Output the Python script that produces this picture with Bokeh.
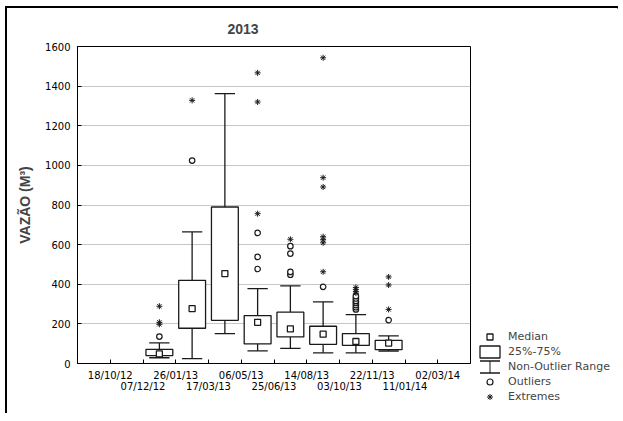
from bokeh.plotting import figure
from bokeh.layouts import row
from bokeh.models import Range1d, FixedTicker, Legend, LegendItem, ColumnDataSource
from bokeh.embed import file_html
from bokeh.resources import INLINE

# ---- data ----
title_text = "2013"
y_label = "VAZÃO (M³)"
tick_labels = ["18/10/12", "07/12/12", "26/01/13", "17/03/13", "06/05/13", "25/06/13",
               "14/08/13", "03/10/13", "22/11/13", "11/01/14", "02/03/14"]
tick_pos = [1, 2, 3, 4, 5, 6, 7, 8, 9, 10, 11]
box_pos = [2.5, 3.5, 4.5, 5.5, 6.5, 7.5, 8.5, 9.5]
q1 = [40, 178, 218, 99, 134, 97, 91, 70]
median = [49, 277, 454, 208, 175, 148, 111, 103]
q3 = [71, 420, 790, 242, 259, 188, 151, 117]
whisk_lo = [29, 25, 151, 64, 76, 54, 54, 63]
whisk_hi = [104, 664, 1362, 378, 392, 311, 247, 139]
outliers = [[136], [1024], [], [477, 538, 659], [448, 462, 555, 592],
            [387], [273, 284, 295, 306, 316, 328, 340], [219]]
extremes = [[198, 208, 289], [1328], [], [756, 1320, 1467], [627],
            [463, 609, 625, 640, 891, 938, 1543], [355, 364, 374, 384], [273, 396, 437]]
legend_labels = ["Median", "25%-75%", "Non-Outlier Range", "Outliers", "Extremes"]

# ---- derived sources ----
box_w = 0.82
cap_w = 0.62
box_src = ColumnDataSource(dict(x=box_pos, q1=q1, q3=q3, med=median,
                                lo=whisk_lo, hi=whisk_hi,
                                cx0=[x - cap_w / 2 for x in box_pos],
                                cx1=[x + cap_w / 2 for x in box_pos]))
out_src = ColumnDataSource(dict(
    x=[box_pos[i] for i, vals in enumerate(outliers) for _ in vals],
    y=[v for vals in outliers for v in vals]))
ext_src = ColumnDataSource(dict(
    x=[box_pos[i] for i, vals in enumerate(extremes) for _ in vals],
    y=[v for vals in extremes for v in vals]))

FONT = "DejaVu Sans"
INK = "#1a1a1a"
LW = 1.3

# ---- main plot ----
p = figure(width=466, height=405, output_backend="svg", toolbar_location=None,
           x_range=Range1d(0, 12), y_range=Range1d(0, 1600),
           min_border_left=70, min_border_right=3, min_border_top=38, min_border_bottom=50)
p.frame_align = False

p.title.text = title_text
p.title.text_font = "Liberation Sans"
p.title.text_font_size = "14px"
p.title.text_font_style = "bold"
p.title.text_line_height = 0.7
p.title.align = "left"
p.title.offset = 150
p.title.standoff = 25

p.outline_line_color = "black"
p.outline_line_width = 1
p.background_fill_color = "white"
p.border_fill_color = "white"

p.xgrid.visible = False
p.ygrid.ticker = FixedTicker(ticks=list(range(0, 1601, 200)))
p.ygrid.grid_line_color = "#8c8c8c"
p.ygrid.grid_line_dash = "1 1"
p.ygrid.grid_line_width = 1

xa = p.xaxis[0]
xa.ticker = FixedTicker(ticks=tick_pos, minor_ticks=[])
xa.major_label_overrides = {t: (lab if i % 2 == 0 else "\n" + lab)
                            for i, (t, lab) in enumerate(zip(tick_pos, tick_labels))}
xa.major_tick_in = 4
xa.major_tick_out = 0
xa.minor_tick_line_color = None
xa.major_label_text_font = FONT
xa.major_label_text_font_size = "10px"
xa.major_label_text_line_height = 1.0
xa.major_label_text_color = "black"
xa.major_label_standoff = 6
xa.axis_line_color = "black"

ya = p.yaxis[0]
ya.ticker = FixedTicker(ticks=list(range(0, 1601, 200)), minor_ticks=[])
ya.major_tick_in = 4
ya.major_tick_out = 0
ya.minor_tick_line_color = None
ya.major_label_text_font = FONT
ya.major_label_text_font_size = "10px"
ya.major_label_text_color = "black"
ya.major_label_standoff = 7
ya.axis_label = y_label
ya.axis_label_text_font = "Liberation Sans"
ya.axis_label_text_font_size = "14px"
ya.axis_label_text_font_style = "bold"
ya.axis_label_standoff = 9
ya.axis_line_color = "black"


def draw_boxplot(fig):
    fig.segment(x0="x", y0="lo", x1="x", y1="q1", source=box_src, line_color=INK, line_width=LW)
    fig.segment(x0="x", y0="q3", x1="x", y1="hi", source=box_src, line_color=INK, line_width=LW)
    fig.segment(x0="cx0", y0="lo", x1="cx1", y1="lo", source=box_src, line_color=INK, line_width=LW)
    fig.segment(x0="cx0", y0="hi", x1="cx1", y1="hi", source=box_src, line_color=INK, line_width=LW)
    r_box = fig.vbar(x="x", bottom="q1", top="q3", width=box_w, source=box_src,
                     fill_color="white", line_color=INK, line_width=LW)
    r_med = fig.scatter(x="x", y="med", source=box_src, marker="square", size=6,
                        fill_color="white", line_color=INK, line_width=LW)
    r_out = fig.scatter(x="x", y="y", source=out_src, marker="circle", size=5.5,
                        fill_color="white", line_color=INK, line_width=1.2)
    r_ext = fig.scatter(x="x", y="y", source=ext_src, marker="asterisk", size=6,
                        line_color=INK, line_width=1)
    return r_box, r_med, r_out, r_ext


draw_boxplot(p)

# ---- legend panel (its own view ranges keep the data out of sight) ----
q = figure(width=145, height=405, output_backend="svg", toolbar_location=None,
           x_range=Range1d(-3, -2), y_range=Range1d(-3, -2),
           x_axis_type=None, y_axis_type=None,
           min_border_left=0, min_border_right=0, min_border_top=0, min_border_bottom=0)
q.frame_align = False
q.outline_line_color = None
q.grid.visible = False
q.background_fill_color = "white"
q.border_fill_color = "white"

l_box, l_med, l_out, l_ext = draw_boxplot(q)
l_cap = q.vbar(x="x", bottom="q1", top="q3", width=box_w, source=box_src, fill_alpha=0,
               line_color=INK, line_width=LW, line_dash="20 12")
l_stem = q.segment(x0="x", y0="lo", x1="x", y1="q1", source=box_src, line_color=INK,
                   line_width=12, line_dash="1 30", line_dash_offset=19)

legend = Legend(items=[
    LegendItem(label=legend_labels[0], renderers=[l_med]),
    LegendItem(label=legend_labels[1], renderers=[l_box]),
    LegendItem(label=legend_labels[2], renderers=[l_cap, l_stem]),
    LegendItem(label=legend_labels[3], renderers=[l_out]),
    LegendItem(label=legend_labels[4], renderers=[l_ext]),
], location=(4, 9), glyph_width=25, glyph_height=15, label_height=15,
    spacing=0, padding=0, margin=0, label_standoff=6,
    border_line_color=None, background_fill_alpha=0,
    label_text_font=FONT, label_text_font_size="11px")
q.add_layout(legend, "center")

layout = row(p, q, styles={"margin-left": "5px", "margin-top": "6px",
                           "border-top": "2px solid #000", "border-left": "2px solid #000"})

open("out.html", "w").write(file_html(layout, INLINE))
